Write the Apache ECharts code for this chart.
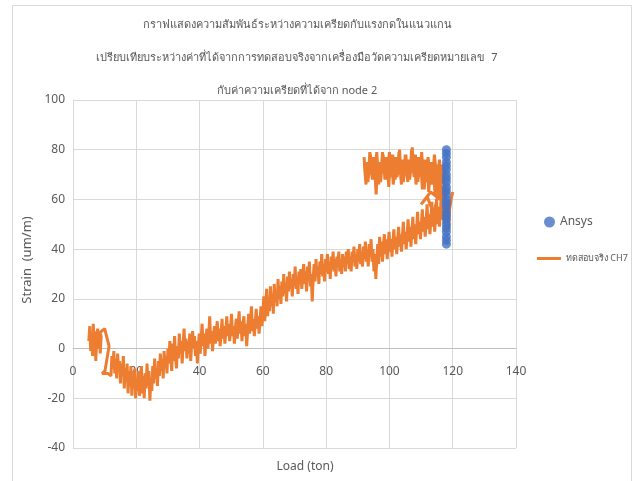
<!DOCTYPE html>
<html><head><meta charset="utf-8">
<script src="https://cdn.jsdelivr.net/npm/echarts@6/dist/echarts.min.js"></script>
<style>html,body{margin:0;padding:0;background:#fff}#c{width:638px;height:481px}</style>
</head><body><div id="c"></div>
<script>
const titleLines = [
  'กราฟแสดงความสัมพันธ์ระหว่างความเครียดกับแรงกดในแนวแกน',
  'เปรียบเทียบระหว่างค่าที่ได้จากการทดสอบจริงจากเครื่องมือวัดความเครียดหมายเลข  7',
  'กับค่าความเครียดที่ได้จาก node 2'
];
const xAxisName = 'Load (ton)';
const yAxisName = 'Strain  (um/m)';
const seriesNames = ['Ansys', 'ทดสอบจริง CH7'];

const ansysLoad = 118;
const ansysStrain = [42,43.5,45,47,48.5,50,52,53.5,55,57,58.5,60,62,63.5,65,67,68.5,70,72,73.5,75,77,78.5,80];

const ch7Points = [
[5,3],[5.3,9],[5.6,-1],[5.9,6],[6.2,-3],[6.4,10],[6.7,1],[7,7],[7.2,-5],[7.5,4],[7.8,8],[8.1,0],[8.4,6],[8.6,-2],[8.9,5],[8.5,6.4],
[10,8],[11.4,1],[10.1,-9],[9.2,-10],[11,-10],[12,-11],
[12.3,-3],[12.6,-8],[12.9,-1],[13.2,-10],[13.5,-4],[13.8,-12],[14.1,-2],[14.4,-9],[14.7,-5],[15,-14],[15.3,-6],[15.6,-11],[15.9,-3],[16.2,-16],[16.5,-8],[16.8,-13],[17.1,-6],[17.4,-18],[17.7,-9],[18,-15],[18.3,-7],[18.6,-19],[18.9,-11],[19.2,-16],[19.5,-8],[19.8,-20],
[20.1,-12],[20.4,-17],[20.7,-9],[21,-19],[21.3,-13],[21.6,-7],[21.9,-18],[22.2,-11],[22.5,-20],[22.8,-10],[23.1,-16],[23.4,-6],[23.7,-15],[24,-9],[24.3,-21],[24.6,-12],[24.9,-17],[25.2,-7],[25.5,-14],[25.8,-4],
[26.1,-12],[26.4,-8],[26.7,-15],[27,-5],[27.3,-11],[27.6,-2],[27.9,-9],[28.2,-4],[28.5,-12],[28.8,-1],[29.1,-8],[29.4,-3],[29.7,-10],[30,0],[30.3,-6],[30.6,3],[30.9,-4],[31.2,-9],[31.5,2],[31.8,-5],
[32.1,5],[32.4,-3],[32.7,-8],[33,1],[33.3,-4],[33.6,6],[33.9,-2],[34.2,3],[34.5,-6],[34.8,2],[35.1,8],[35.4,-1],[35.7,4],[36,-4],[36.3,3],[36.6,-2],[36.9,6],[37.2,-5],[37.5,2],[37.8,7],
[38.1,0],[38.4,5],[38.7,-3],[39,3],[39.3,-6],[39.6,1],[39.9,6],[40.2,-2],[40.5,4],[40.8,10],[41.1,1],[41.4,6],[41.7,-3],[42,3],[42.3,8],[42.6,0],[42.9,5],[43.2,13],[43.5,2],[43.8,7],
[44.1,-1],[44.4,5],[44.7,9],[45,2],[45.3,7],[45.6,11],[45.9,3],[46.2,8],[46.5,1],[46.8,6],[47.1,12],[47.4,4],[47.7,9],[48,2],[48.3,7],[48.6,13],[48.9,5],[49.2,10],[49.5,3],[49.8,8],
[50.1,14],[50.4,5],[50.7,9],[51,2],[51.3,8],[51.6,12],[51.9,4],[52.2,9],[52.5,15],[52.8,6],[53.1,11],[53.4,3],[53.7,9],[54,13],[54.3,5],[54.6,10],[54.9,1],[55.2,8],[55.5,14],[55.8,6],
[56.1,11],[56.4,17],[56.7,7],[57,12],[57.3,5],[57.6,10],[57.9,16],[58.2,8],[58.5,13],[58.8,6],[59.1,11],[59.4,17],[59.7,9],[60,14],[60.3,21],[60.6,11],[60.9,18],[61.2,24],[61.5,13],[61.8,20],
[62.1,15],[62.4,25],[62.7,17],[63,22],[63.3,14],[63.6,26],[63.9,19],[64.2,23],[64.5,17],[64.8,28],[65.1,20],[65.4,25],[65.7,18],[66,27],[66.3,21],[66.6,30],[66.9,22],[67.2,26],[67.5,19],[67.8,29],
[68.1,23],[68.4,31],[68.7,24],[69,28],[69.3,21],[69.6,30],[69.9,25],[70.2,33],[70.5,24],[70.8,29],[71.1,22],[71.4,31],[71.7,26],[72,32],[72.3,24],[72.6,29],[72.9,34],[73.2,26],[73.5,31],[73.8,23],
[74.1,33],[74.4,27],[74.7,35],[75,25],[75.3,30],[75.6,19],[75.9,28],[76.2,34],[76.5,27],[76.8,36],[77.1,29],[77.4,33],[77.7,26],[78,35],[78.3,30],[78.6,38],[78.9,29],[79.2,34],[79.5,27],[79.8,36],
[80.1,31],[80.4,38],[80.7,30],[81,35],[81.3,28],[81.6,37],[81.9,32],[82.2,39],[82.5,31],[82.8,36],[83.1,29],[83.4,37],[83.7,33],[84,39],[84.3,31],[84.6,36],[84.9,30],[85.2,38],[85.5,33],[85.8,37],
[86.1,31],[86.4,39],[86.7,34],[87,40],[87.3,32],[87.6,37],[87.9,31],[88.2,39],[88.5,35],[88.8,41],[89.1,33],[89.4,38],[89.7,32],[90,40],[90.3,35],[90.6,42],[90.9,34],[91.2,39],[91.5,33],[91.8,41],
[92.1,36],[92.4,43],[92.7,35],[93,40],[93.3,33],[93.6,42],[93.9,37],[94.2,44],[94.5,35],[94.8,40],[95.1,31],[95.4,38],[95.7,28],[96,36],[96.3,42],[96.6,34],[96.9,45],[97.2,37],[97.5,43],[97.8,35],
[98.1,41],[98.4,46],[98.7,38],[99,44],[99.3,36],[99.6,42],[99.9,47],[100.2,39],[100.5,44],[100.8,37],[101.1,43],[101.4,48],[101.7,40],[102,45],[102.3,38],[102.6,44],[102.9,49],[103.2,41],[103.5,46],[103.8,39],
[104.1,45],[104.4,51],[104.7,42],[105,47],[105.3,40],[105.6,46],[105.9,52],[106.2,43],[106.5,49],[106.8,41],[107.1,47],[107.4,53],[107.7,44],[108,50],[108.3,42],[108.6,48],[108.9,55],[109.2,46],[109.5,51],[109.8,44],
[110.1,50],[110.4,56],[110.7,47],[111,53],[111.3,45],[111.6,51],[111.9,58],[112.2,48],[112.5,54],[112.8,46],[113.1,52],[113.4,59],[113.7,49],[114,55],[114.3,47],[114.6,53],[114.9,60],[115.2,50],[115.5,57],[115.8,49],
[116.1,55],[116.4,62],[116.7,52],[117,58],[117.3,50],[117.6,60],[117.9,65],
[116,60],[113,63],[110,58],[112,61],[114,54],[116,66],[118,62],[117,68],[115,63],[117.5,72],
[117,67],[116.6,74],[116.2,68],[115.8,76],[115.4,70],[115,65],[114.6,73],[114.2,78],[113.8,69],[113.4,75],[113,66],[112.6,72],[112.2,77],[111.8,68],[111.4,74],[111,64],[110.6,71],[110.2,79],[109.8,70],[109.4,75],
[109,67],[108.6,73],[108.2,78],[107.8,69],[107.4,74],[107,80],[106.6,70],[106.2,76],[105.8,67],[105.4,73],[105,78],[104.6,69],[104.2,75],[103.8,66],[103.4,72],[103,79],[102.6,70],[102.2,76],[101.8,68],[101.4,73],
[101,78],[100.6,69],[100.2,75],[99.8,65],[99.4,72],[99,77],[98.6,68],[98.2,74],[97.8,79],[97.4,70],[97,75],[96.6,66],[96.2,73],[95.8,62],[95.4,71],[95,77],[94.6,68],[94.2,74],[93.8,79],[93.4,69],
[93,75],[92.6,66],[92.2,72],[92,77],[92.4,69],[92.8,75],[93.2,67],[93.6,73],[94,78],[94.4,70],[94.8,76],[95.2,68],[95.6,74],[96,79],[96.4,70],[96.8,75],[97.2,67],[97.6,73],[98,78],[98.4,71],
[98.8,76],[99.2,68],[99.6,74],[100,79],[100.4,70],[100.8,75],[101.2,66],[101.6,72],[102,77],[102.4,69],[102.8,74],[103.2,80],[103.6,71],[104,76],[104.4,67],[104.8,73],[105.2,78],[105.6,70],[106,75],[106.4,68],
[106.8,73],[107.2,81],[107.6,71],[108,76],[108.4,66],[108.8,72],[109.2,77],[109.6,69],[110,74],[110.4,64],[110.8,71],[111.2,76],[111.6,67],[112,73],[112.4,63],[112.8,70],[113.2,75],[113.6,66],[114,72],[114.4,62],
[114.8,69],[115.2,74],[115.6,60],[116,68],[116.4,57],[116.8,65],[117.2,55],[117.6,63],[118,52],[118.4,60],[118.7,48],[119,56],[119.5,60],[120,63]
];

const xTicks = {min: 0, max: 140, interval: 20};
const yTicks = {min: -40, max: 100, interval: 20};

const chart = echarts.init(document.getElementById('c'), null, {renderer: 'canvas'});
const txt = '#595959';
const ff = '"Noto Sans", "DejaVu Sans", sans-serif';
const gridTop = 100, gridBottom = 33, H = 481;
const zeroOffset = -((H - gridTop - gridBottom) * (0 - yTicks.min) / (yTicks.max - yTicks.min));
chart.setOption({
  animation: false,
  backgroundColor: '#fff',
  textStyle: {fontFamily: ff},
  graphic: [{type: 'rect', shape: {x: 12.5, y: 5.5, width: 619, height: 490}, style: {fill: 'none', stroke: '#D9D9D9', lineWidth: 1}}],
  title: [
    {text: titleLines[0], left: 292, top: 14, textAlign: 'center', textStyle: {fontSize: 11, fontWeight: 'normal', color: txt, fontFamily: ff}},
    {text: titleLines[1], left: 292, top: 47, textAlign: 'center', textStyle: {fontSize: 11, fontWeight: 'normal', color: txt, fontFamily: ff}},
    {text: titleLines[2], left: 292, top: 80, textAlign: 'center', textStyle: {fontSize: 11, fontWeight: 'normal', color: txt, fontFamily: ff}},
    {text: xAxisName, left: 300, top: 456, textAlign: 'center', textStyle: {fontSize: 12, fontWeight: 'normal', color: txt, fontFamily: ff}}
  ],
  legend: [
    {data: [{name: seriesNames[0], icon: 'circle'}], left: 539, top: 211, itemWidth: 11, itemHeight: 11, itemGap: 8,
     textStyle: {fontSize: 12, color: txt}},
    {data: [{name: seriesNames[1], icon: 'rect'}], left: 532, top: 249, itemWidth: 24, itemHeight: 3, itemGap: 3,
     textStyle: {fontSize: 9, color: txt}}
  ],
  grid: {left: 73, right: 122, top: gridTop, bottom: gridBottom, containLabel: false},
  xAxis: {
    type: 'value', min: xTicks.min, max: xTicks.max, interval: xTicks.interval,
    position: 'bottom', offset: zeroOffset,
    axisLine: {show: true, onZero: false, lineStyle: {color: '#BFBFBF', width: 1}},
    axisTick: {show: false},
    axisLabel: {color: txt, fontSize: 12, margin: 17},
    splitLine: {show: true, lineStyle: {color: '#D9D9D9', width: 1}}
  },
  yAxis: {
    type: 'value', min: yTicks.min, max: yTicks.max, interval: yTicks.interval,
    name: yAxisName, nameLocation: 'middle', nameGap: 26, nameRotate: 90,
    nameTextStyle: {color: txt, fontSize: 13, padding: [0, 0, 0, 28]},
    axisLine: {show: true, onZero: false, lineStyle: {color: '#D9D9D9', width: 1}},
    axisTick: {show: false},
    axisLabel: {color: txt, fontSize: 12, margin: 8},
    splitLine: {show: true, lineStyle: {color: '#D9D9D9', width: 1}}
  },
  series: [
    {name: seriesNames[1], type: 'line', data: ch7Points, showSymbol: false, symbol: 'none',
     lineStyle: {color: '#ED7D31', width: 3}, itemStyle: {color: '#ED7D31'}, z: 2},
    {name: seriesNames[0], type: 'scatter', data: ansysStrain.map(v => [ansysLoad, v]), symbolSize: 9,
     itemStyle: {color: '#4472C4'}, z: 3}
  ]
});
</script></body></html>
